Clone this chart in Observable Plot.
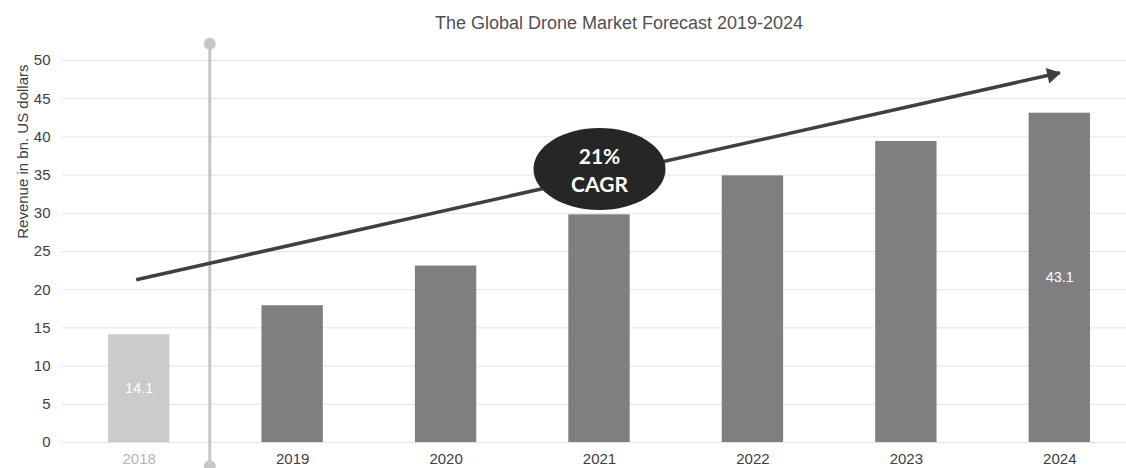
<!DOCTYPE html>
<html>
<head>
<meta charset="utf-8">
<script src="https://cdn.jsdelivr.net/npm/d3@7"></script>
<script src="https://cdn.jsdelivr.net/npm/@observablehq/plot@0.6"></script>
<style>
  html, body { margin: 0; padding: 0; background: #fff; overflow: hidden; }
  #title { position: absolute; top: 0; left: 0; width: 1126px; height: 40px; line-height: 47px; text-align: center;
           padding-left: 112px; box-sizing: border-box; white-space: nowrap;
           font-family: "Liberation Sans", Arial, sans-serif; font-size: 18px; color: #505050; }
  #chart { position: absolute; top: 40px; left: 0; }
  svg g[aria-label="trend"], svg g[aria-label="trend-head"] { filter: drop-shadow(1px 2px 1.5px rgba(0,0,0,0.35)); }
  svg g[aria-label="cagr"] { filter: drop-shadow(1px 2px 2px rgba(0,0,0,0.4)); }
</style>
</head>
<body>
<div id="title">The Global Drone Market Forecast 2019-2024</div>
<div id="chart"></div>
<script>
// ---- data ----
const years = [2018, 2019, 2020, 2021, 2022, 2023, 2024];
const revenue = [14.1, 17.9, 23.1, 29.8, 34.9, 39.4, 43.1];
const labelledYears = [2018, 2024];
const yTicks = [0, 5, 10, 15, 20, 25, 30, 35, 40, 45, 50];
const trendYears = [2017.98, 2024.0];
const trendValues = [21.3, 48.4];
const cagrYear = [2021.0];
const cagrValue = [35.8];
const cagrLabel = ["21%\nCAGR"];
const separatorYear = [2018.46];
const separatorValues = [52.2, -3.1];
const yLabel = "Revenue in bn. US dollars";

const rows = years.map((y, i) => ({year: y, value: revenue[i]}));
const labelRows = rows.filter(d => labelledYears.includes(d.year));
const historic = 2018;

const ellipse = {
  draw(ctx, size) {
    const r = Math.sqrt(size / Math.PI);
    const rx = r * 1.61, ry = r, k = 0.5523;
    ctx.moveTo(rx, 0);
    ctx.bezierCurveTo(rx, ry * k, rx * k, ry, 0, ry);
    ctx.bezierCurveTo(-rx * k, ry, -rx, ry * k, -rx, 0);
    ctx.bezierCurveTo(-rx, -ry * k, -rx * k, -ry, 0, -ry);
    ctx.bezierCurveTo(rx * k, -ry, rx, -ry * k, rx, 0);
    ctx.closePath();
  }
};

const W = 1126, H = 428, ML = 62, MR = -10, MT = 20, MB = 26;
// direction of the trend arrow in pixels (for the filled head)
const xs = d3.scaleLinear([2017.5, 2024.5], [ML, W - MR]);
const ys = d3.scaleLinear([0, 50], [H - MB, MT]);
const ddx = xs(trendYears[1]) - xs(trendYears[0]);
const ddy = ys(trendValues[1]) - ys(trendValues[0]);
const len = Math.hypot(ddx, ddy);
const ang = Math.atan2(ddy, ddx) * 180 / Math.PI; // negative = upward
const headBack = 9;

const chart = Plot.plot({
  width: W,
  height: H,
  marginLeft: ML,
  marginRight: MR,
  marginTop: MT,
  marginBottom: MB,
  style: {fontFamily: "'Liberation Sans', Arial, sans-serif", fontSize: "15px", color: "#404040", background: "#fff", overflow: "visible"},
  x: {domain: [2017.5, 2024.5]},
  y: {domain: [0, 50]},
  marks: [
    Plot.gridY(yTicks, {stroke: "#e3e3e3", strokeOpacity: 1, strokeWidth: 1}),
    Plot.axisY(yTicks, {tickSize: 0, tickPadding: 12, label: null, fill: "#404040", fontSize: 15}),
    Plot.axisX(years, {tickSize: 0, tickPadding: 11, tickFormat: d => String(d), label: null,
      fill: d => d === historic ? "#b5b5b5" : "#404040", fontSize: 15}),
    Plot.text([yLabel], {frameAnchor: "top-left", dx: -45, dy: 4, rotate: -90, textAnchor: "end",
      fill: "#404040", fontSize: 15}),
    Plot.rectY(rows, {x1: d => d.year - 0.2, x2: d => d.year + 0.2, y1: 0, y2: "value",
      fill: d => d.year === historic ? "#cbcbcb" : "#7f7f7f"}),
    Plot.text(labelRows, {x: "year", y: d => d.value / 2, text: d => d.value.toFixed(1), fill: "#fff", fontSize: 14.5}),
    Plot.ruleX(separatorYear, {x: d => d, y1: separatorValues[0], y2: separatorValues[1], stroke: "#c6c6c6", strokeWidth: 3}),
    Plot.dot(separatorValues, {x: separatorYear[0], y: d => d, r: 6, fill: "#c6c6c6", stroke: null}),
    Plot.link([0], {x1: trendYears[0], y1: trendValues[0], x2: trendYears[1], y2: trendValues[1],
      stroke: "#404040", strokeWidth: 3.5, ariaLabel: "trend"}),
    Plot.dot([0], {x: trendYears[1], y: trendValues[1], r: 5.9, symbol: "triangle", fill: "#404040", stroke: null,
      rotate: 90 + ang, dx: -headBack * ddx / len + 1, dy: -headBack * ddy / len, ariaLabel: "trend-head"}),
    Plot.dot(cagrYear, {x: d => d, y: cagrValue[0], r: 41, symbol: ellipse, fill: "#262626", stroke: null, ariaLabel: "cagr"}),
    Plot.text(cagrLabel, {x: cagrYear[0], y: cagrValue[0], text: d => d, fill: "#fff", fontSize: 21, fontWeight: "bold",
      fontFamily: "Lato, 'Open Sans', sans-serif", lineHeight: 1.33})
  ]
});
document.getElementById("chart").appendChild(chart);
</script>
</body>
</html>
